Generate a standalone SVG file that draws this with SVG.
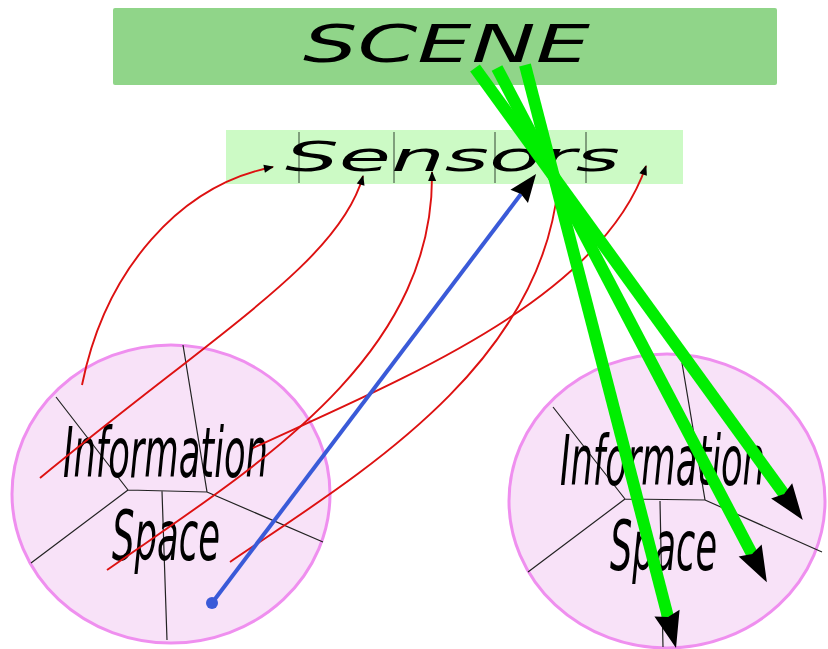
<svg xmlns="http://www.w3.org/2000/svg" width="828" height="649" viewBox="0 0 828 649">
<defs>
<style>
.scene{fill:#90d589;}
.sens{fill:#ccfac5;}
.space{fill:#f8e2f8;stroke:#ef8fef;stroke-width:3;}
.vor{stroke:#222;stroke-width:1.2;fill:none;}
.sep{stroke:#334433;stroke-width:1;}
.lbl{font-family:"DejaVu Sans","Liberation Sans",sans-serif;font-style:italic;fill:#000;}
.red{stroke:#dd1111;stroke-width:1.9;fill:none;marker-end:url(#ra);}
.green{stroke:#00ee00;stroke-width:12;fill:none;marker-end:url(#ga);}
.blue{stroke:#3a5ad8;stroke-width:4;fill:none;marker-end:url(#ba);}
</style>
<marker id="ra" markerUnits="userSpaceOnUse" markerWidth="12" markerHeight="10" refX="9" refY="5" orient="auto" overflow="visible">
<path d="M0,1 L10,5 L0,9 Z" fill="#000"/>
</marker>
<marker id="ga" markerUnits="userSpaceOnUse" markerWidth="40" markerHeight="30" refX="4" refY="13" orient="auto" overflow="visible">
<path d="M0,0 L36,13 L0,26 L4,13 Z" fill="#000"/>
</marker>
<marker id="ba" markerUnits="userSpaceOnUse" markerWidth="32" markerHeight="26" refX="3" refY="11" orient="auto" overflow="visible">
<path d="M0,0 L28,11 L0,22 L3,11 Z" fill="#000"/>
</marker>
</defs>
<rect width="828" height="649" fill="#fff"/>

<g id="scene">
<rect class="scene" x="113" y="8" width="664" height="77" rx="2"/>
<text class="lbl" x="303" y="62" font-size="51" textLength="287" lengthAdjust="spacingAndGlyphs">SCENE</text>
</g>

<g id="sensors">
<rect class="sens" x="226" y="130" width="457" height="54"/>
<line class="sep" x1="299" y1="132" x2="299" y2="183"/>
<line class="sep" x1="394" y1="132" x2="394" y2="183"/>
<line class="sep" x1="495" y1="132" x2="495" y2="183"/>
<line class="sep" x1="586" y1="132" x2="586" y2="183"/>
<text class="lbl" x="285" y="171" font-size="40" textLength="335" lengthAdjust="spacingAndGlyphs">Sensors</text>
</g>

<g id="space-left">
<ellipse class="space" cx="171" cy="494" rx="159" ry="149"/>
<path class="vor" d="M56,397 L128,490 L207,492 L183,345 M207,492 L323,542 M128,490 L31,563 M162,491 L167,640"/>
<text class="lbl" x="63" y="477" font-size="69" textLength="205" lengthAdjust="spacingAndGlyphs">Information</text>
<text class="lbl" x="112" y="560" font-size="69" textLength="108" lengthAdjust="spacingAndGlyphs">Space</text>
</g>

<g id="space-right">
<ellipse class="space" cx="667" cy="501" rx="158" ry="147"/>
<path class="vor" d="M553,407 L625,499 L705,500 L682,363 M705,500 L822,552 M625,499 L528,572 M660,501 L663,647"/>
<text class="lbl" x="560" y="485" font-size="69" textLength="205" lengthAdjust="spacingAndGlyphs">Information</text>
<text class="lbl" x="610" y="570" font-size="69" textLength="107" lengthAdjust="spacingAndGlyphs">Space</text>
</g>

<g id="connectors">
<path class="red" d="M82,385 C105,270 180,185 273,167"/>
<path class="red" d="M40,478 C220,330 340,260 363,176"/>
<path class="red" d="M107,570 C250,470 435,360 432,172"/>
<path class="red" d="M230,562 C350,480 540,370 558,186"/>
<path class="red" d="M253,448 C400,380 600,300 646,166"/>
<line class="blue" x1="212" y1="603" x2="521" y2="194"/>
<circle cx="212" cy="603" r="6" fill="#3a5ad8"/>
<line class="green" x1="475" y1="68" x2="784" y2="494"/>
<line class="green" x1="497" y1="68" x2="752" y2="554"/>
<line class="green" x1="525" y1="65" x2="668" y2="617"/>
</g>
</svg>
